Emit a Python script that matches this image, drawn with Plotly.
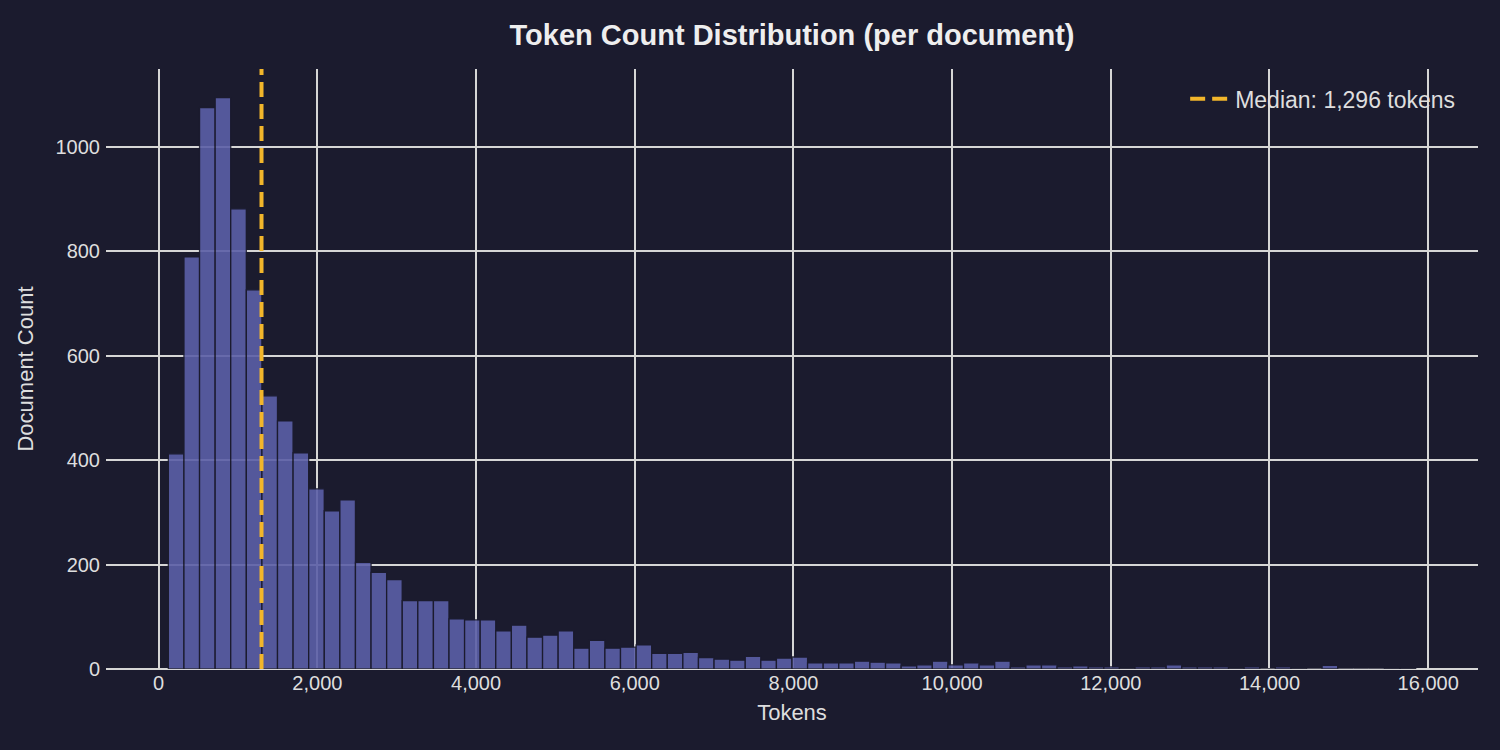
import plotly.graph_objects as go

# Histogram data (80 equal-width bins)
bin_start = 122
bin_width = 196.5
counts = [412, 789, 1075, 1094, 881, 726, 523, 475, 414, 345,
          303, 324, 204, 185, 171, 131, 131, 131, 96, 94,
          94, 73, 84, 61, 65, 73, 40, 55, 40, 42,
          46, 30, 30, 32, 22, 19, 17, 24, 17, 21,
          23, 12, 12, 12, 15, 13, 12, 6, 8, 15,
          8, 12, 8, 15, 4, 8, 8, 4, 6, 4,
          4, 2, 4, 4, 8, 4, 4, 4, 2, 4,
          0, 4, 2, 0, 7, 0, 0, 0, 1, 1]
median_tokens = 1296
x_ticks = [0, 2000, 4000, 6000, 8000, 10000, 12000, 14000, 16000]
y_ticks = [0, 200, 400, 600, 800, 1000]

bg = '#1b1b2e'
text_color = '#dedede'
grid_color = '#d6d6d6'
font_family = 'Liberation Sans, Arial, sans-serif'

centers = [bin_start + bin_width * (i + 0.5) for i in range(len(counts))]
bin_end = bin_start + bin_width * len(counts)

# matplotlib-like 5% padding
x_pad = (bin_end - bin_start) * 0.05
y_top = max(counts) * 1.05

fig = go.Figure()

fig.add_trace(
    go.Bar(
        x=centers,
        y=counts,
        width=bin_width,
        marker=dict(color='rgb(91,95,167)', opacity=0.9,
                    line=dict(color=bg, width=1.3)),
        showlegend=False,
        hoverinfo='x+y'
    )
)

# Median marker
fig.add_trace(
    go.Scatter(
        x=[median_tokens, median_tokens],
        y=[0, y_top],
        mode='lines',
        line=dict(color='#f2b62b', width=4, dash='15px,7px'),
        name='Median: {:,} tokens'.format(median_tokens)
    )
)

fig.update_layout(
    width=1500,
    height=750,
    paper_bgcolor=bg,
    plot_bgcolor=bg,
    font=dict(family=font_family, color=text_color, size=20),
    title=dict(
        text='<b>Token Count Distribution (per document)</b>',
        font=dict(size=29, color='#eeeeee'),
        x=0.528, xanchor='center',
        y=1 - 35 / 750, yanchor='middle'
    ),
    legend=dict(
        x=0.987, xanchor='right',
        y=0.986, yanchor='top',
        bgcolor='rgba(0,0,0,0)',
        font=dict(size=23, color=text_color),
        itemwidth=40
    ),
    margin=dict(l=106, r=22, t=69, b=81)
)

fig.update_xaxes(
    title_text='Tokens',
    title_font=dict(size=22, color=text_color),
    title_standoff=11,
    range=[bin_start - x_pad, bin_end + x_pad],
    tickvals=x_ticks,
    tickformat=',d',
    showgrid=True,
    gridcolor=grid_color,
    gridwidth=1.6,
    zeroline=False,
    showline=False,
    ticks=''
)
fig.update_yaxes(
    title_text='Document Count',
    title_font=dict(size=22, color=text_color),
    range=[0, y_top],
    tickvals=y_ticks,
    tickformat='d',
    ticklabelstandoff=5,
    showgrid=True,
    gridcolor=grid_color,
    gridwidth=1.6,
    zeroline=True,
    zerolinecolor=grid_color,
    zerolinewidth=1.6,
    showline=False,
    ticks=''
)

# page margin off so the figure sits at the top-left corner
fig.write_html('out.html', config={'displayModeBar': False},
               post_script="document.body.style.margin='0';")
